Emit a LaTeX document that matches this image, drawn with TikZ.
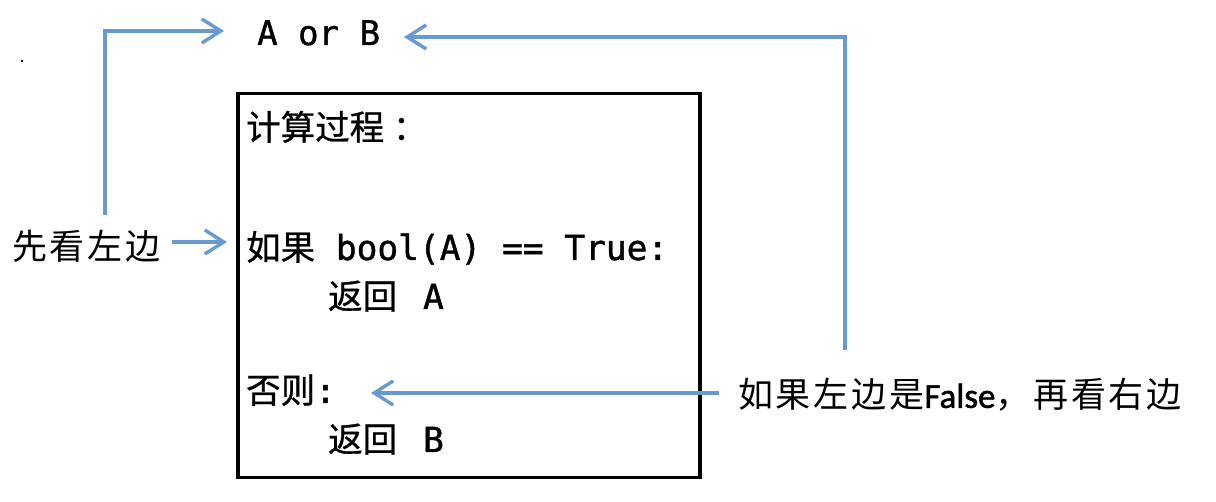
\documentclass[tikz,border=0pt]{standalone}
\usepackage{fontspec}
\usetikzlibrary{arrows.meta}
\newfontfamily\cjk[FakeBold=0.8]{Noto Sans CJK SC}
\newfontfamily\cjklbl[LetterSpace=8]{Noto Sans CJK SC}
\newfontfamily\monof[FakeBold=1.2]{DejaVu Sans Mono}
\newfontfamily\carl[FakeBold=1.5]{Carlito}
\definecolor{arrblue}{RGB}{104,153,208}
\begin{document}
\begin{tikzpicture}[x=1pt,y=-1pt,
  conn/.style={draw=arrblue,line width=3.4pt,-{Straight Barb[length=19pt,width=24pt]}},
  code/.style={anchor=base west,inner sep=0pt,font=\fontsize{34.5}{40}\selectfont},
  lbl/.style={anchor=west,inner sep=0pt,font=\fontsize{35}{40}\selectfont\cjklbl}]
\useasboundingbox (0,0) rectangle (1216,502);
\fill (22,61) circle (1.4pt);
\node[draw,line width=3.5pt,minimum width=462pt,minimum height=384pt,anchor=north west,inner sep=0pt] (box) at (236,92) {};
\node[code,font=\fontsize{34}{40}\selectfont\monof] (aorb) at (257,45) {A or B};
\node[code] (t1) at (246,140) {\cjk 计算过程\hspace{0.25em}：};
\node[code] (t2) at (246,260) {\cjk 如果\hspace{0.6em}\monof bool(A) == True:};
\node[code] (t3) at (328,309) {\cjk 返回\hspace{0.75em}\monof A};
\node[code] (t4) at (246,403) {\cjk 否则\monof :};
\node[code] (t5) at (328,452) {\cjk 返回\hspace{0.75em}\monof B};
\node[lbl] (left) at (12,246) {先看左边};
\node[lbl] (right) at (738,395) {如果左边是{\carl False}，再看右边};
\coordinate (l1) at (105,215);
\coordinate (l1c) at (105,31);
\coordinate (l1t) at (224,31);
\coordinate (l2s) at (172,242);
\coordinate (l2t) at (227,242);
\coordinate (r1) at (845,350);
\coordinate (r1c) at (845,37);
\coordinate (r1t) at (404,37);
\coordinate (r2s) at (719,393);
\coordinate (r2t) at (371,393);
\draw[conn] (l1) -- (l1c) -- (l1t);
\draw[conn] (l2s) -- (l2t);
\draw[conn] (r1) -- (r1c) -- (r1t);
\draw[conn] (r2s) -- (r2t);
\end{tikzpicture}
\end{document}
